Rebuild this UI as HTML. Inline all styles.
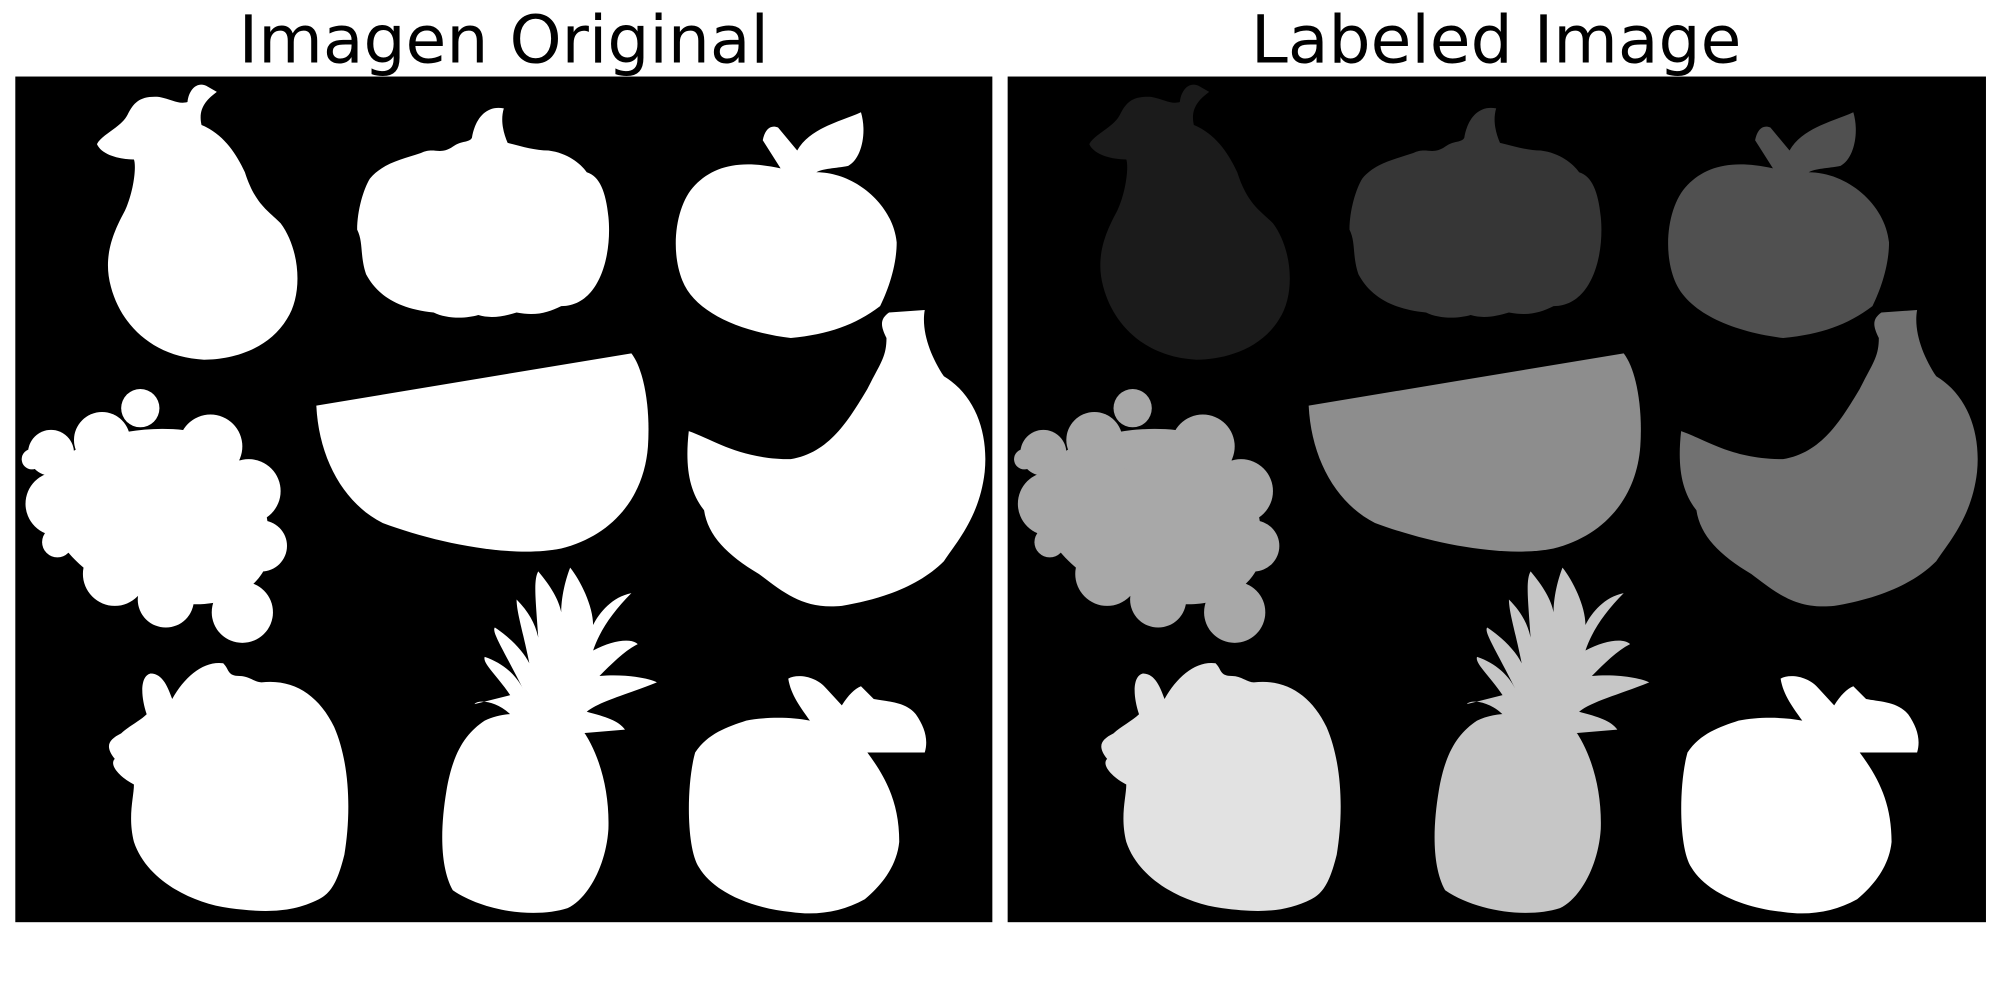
<!DOCTYPE html>
<html><head><meta charset="utf-8"><style>
html,body{margin:0;padding:0;background:#fff;}
svg{display:block;}
text{font-family:"DejaVu Sans","Liberation Sans",sans-serif;}
</style></head><body>
<svg width="2000" height="1000" viewBox="0 0 1568 784">
<defs>
<path id="pear" d="M76,113 C80,105 95,100 100,90 C105,80 110,75 125,76 C135,78 140,82 147,80 C148,70 155,63 163,68 L170,72 C162,78 155,85 158,98 C175,105 185,120 192,135 C200,160 210,165 220,175 C235,195 238,230 225,250 C210,275 180,282 160,282 C120,280 95,255 87,225 C80,200 90,180 98,165 C105,150 107,130 105,125 C95,125 80,122 76,113 Z"/>
<path id="pumpkin" d="M290,140 C300,128 315,125 330,120 C340,115 345,122 355,115 C362,110 368,112 370,108 C372,95 380,82 395,85 C392,95 395,105 398,112 C410,115 420,118 430,118 C445,120 455,128 460,135 C470,138 475,150 477,170 C480,200 470,240 440,240 C430,245 420,248 405,245 C395,248 385,250 375,247 C365,250 350,250 340,245 C310,242 295,230 287,215 C282,200 285,190 280,180 C280,165 285,148 290,140 Z"/>
<path id="apple" d="M598,110 C600,100 605,98 610,100 L625,118 C635,100 660,95 675,88 C680,105 675,125 665,130 C655,132 645,132 640,135 C670,135 700,160 703,190 C703,210 695,230 690,240 C670,255 650,262 620,265 C580,260 545,245 535,220 C525,195 530,160 545,145 C560,130 580,125 612,132 Z"/>
<g id="grapes">
<path d="M40,370 C60,340 120,330 160,340 C200,360 215,400 210,440 C200,470 160,480 130,470 C90,470 50,440 40,410 Z"/>
<circle cx="165" cy="350" r="25"/><circle cx="195" cy="385" r="25"/><circle cx="205" cy="428" r="20"/>
<circle cx="175" cy="430" r="32"/><circle cx="135" cy="410" r="45"/><circle cx="85" cy="405" r="42"/>
<circle cx="45" cy="395" r="25"/><circle cx="90" cy="450" r="25"/><circle cx="130" cy="470" r="22"/>
<circle cx="190" cy="480" r="24"/><circle cx="80" cy="345" r="22"/><circle cx="40" cy="355" r="18"/>
<circle cx="25" cy="360" r="8"/><circle cx="110" cy="320" r="15"/><circle cx="45" cy="425" r="12"/>
</g>
<path id="melon" d="M248,318 L495,277 C505,290 510,320 508,350 C505,390 480,420 440,430 C400,438 340,425 300,410 C270,395 250,360 248,318 Z"/>
<path id="banana" d="M540,338 C560,345 580,360 620,360 C650,355 665,330 680,305 C690,285 695,280 695,265 C690,255 690,250 697,245 L725,243 C722,260 730,280 740,295 C765,310 775,340 772,370 C768,405 750,425 740,440 C720,460 690,470 660,475 C630,478 615,465 595,450 C570,435 555,420 552,400 C540,385 537,365 540,338 Z"/>
<path id="straw" d="M115,560 C110,545 110,530 118,528 C128,528 132,540 135,548 C145,530 160,518 175,520 C180,525 178,530 188,530 C195,530 200,535 205,535 C230,532 250,545 262,570 C275,600 275,640 270,670 C265,690 260,700 250,705 C230,715 210,716 180,712 C150,708 115,690 105,660 C100,640 105,625 105,615 C95,610 85,600 90,595 C82,585 85,580 95,575 C100,570 110,565 115,560 Z"/>
<path id="pine" d="M380,565 C400,555 430,560 455,570 C470,590 478,620 477,650 C475,680 460,705 445,712 C420,720 380,715 355,698 C345,680 345,650 350,620 C355,590 365,575 380,565 Z M400,560 C390,550 375,548 372,552 L400,545 C390,530 378,520 380,515 C395,520 405,530 410,540 C395,510 385,495 388,492 C400,500 410,510 415,520 C410,495 405,480 405,470 C415,480 420,490 422,500 C420,470 418,455 422,448 C432,460 438,470 440,480 C440,465 445,450 447,445 C455,455 465,475 465,490 C470,480 480,468 495,465 C480,480 470,495 465,510 C480,502 495,500 500,505 C490,510 480,520 470,530 C490,528 510,532 515,535 C490,545 470,550 460,558 C475,562 485,565 490,572 L455,575 Z"/>
<path id="apple2" d="M545,590 C555,575 570,570 585,565 C600,562 620,562 635,565 C628,555 620,545 618,532 C625,528 640,530 648,540 L660,553 C665,545 670,540 675,538 L685,548 C695,550 710,550 718,560 C725,570 728,580 725,590 L680,590 C695,610 705,630 705,660 C703,680 690,695 678,705 C660,715 640,718 620,715 C590,712 560,700 548,680 C538,665 538,615 545,590 Z"/>
</defs>
<text x="395" y="49" font-size="52" text-anchor="middle">Imagen Original</text>
<text x="1173" y="49" font-size="52" text-anchor="middle">Labeled Image</text>
<g>
<rect x="12" y="60" width="766" height="663" fill="#000"/>
<g fill="#fff">
<use href="#pear"/><use href="#pumpkin"/><use href="#apple"/><use href="#grapes"/><use href="#melon"/><use href="#banana"/><use href="#straw"/><use href="#pine"/><use href="#apple2"/>
</g>
</g>
<g>
<rect x="790" y="60" width="767" height="663" fill="#000"/>
<g transform="translate(778,0)">
<use href="#pear" fill="#1b1b1b"/><use href="#pumpkin" fill="#363636"/><use href="#apple" fill="#505050"/><use href="#grapes" fill="#a8a8a8"/><use href="#melon" fill="#8d8d8d"/><use href="#banana" fill="#717171"/><use href="#straw" fill="#e2e2e2"/><use href="#pine" fill="#c6c6c6"/><use href="#apple2" fill="#ffffff"/>
</g>
</g>
</svg>
</body></html>
